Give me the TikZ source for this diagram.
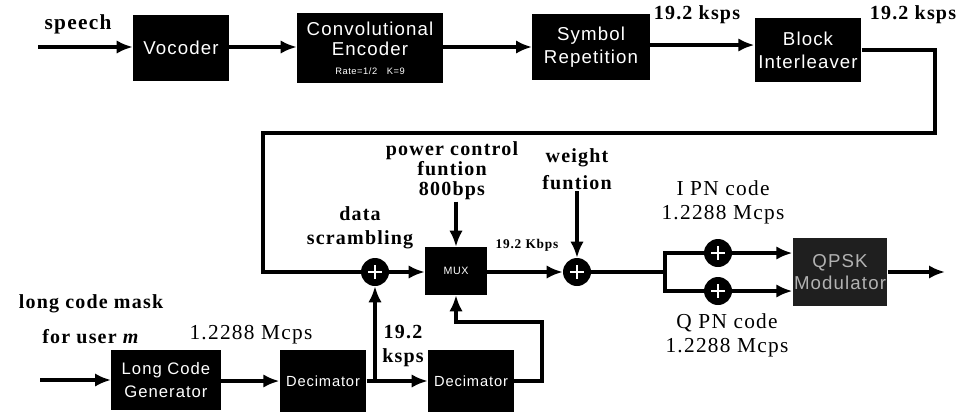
\documentclass[tikz,border=0pt]{standalone}
\usepackage{fontspec}
\setmainfont{Liberation Serif}[LetterSpace=6]
\newfontfamily\boxfont{Liberation Sans}[LetterSpace=6]
\usetikzlibrary{arrows.meta}

\begin{document}
\begin{tikzpicture}[
  x=0.75pt, y=-0.75pt,
  every node/.style={inner sep=1pt},
  blk/.style={rectangle, fill=black, text=white, align=center, inner sep=0pt,
    font=\boxfont\fontsize{14}{17}\selectfont},
  xor/.style={circle, fill=black, minimum size=21pt, inner sep=0pt,
    path picture={
      \draw[white, line width=1.8pt]
        ([yshift=-5pt]path picture bounding box.center) -- ([yshift=5pt]path picture bounding box.center)
        ([xshift=-5pt]path picture bounding box.center) -- ([xshift=5pt]path picture bounding box.center);}},
  lbl/.style={align=center, font=\fontsize{16}{18}\selectfont},
  blbl/.style={lbl, font=\bfseries\fontsize{15}{18}\selectfont},
  edge/.style={draw, line width=2.6pt},
  arr/.style={edge, -{Latex[length=12pt,width=10pt]}}]

  \useasboundingbox (0,0) rectangle (962,412);

  %% ---------------- top row ----------------
  % blocks
  \node[blk, minimum width=72pt, minimum height=50pt] (voc) at (181,48) {Vocoder};
  \node[blk, minimum width=109.5pt, minimum height=52pt] (conv) at (370,48)
    {Convolutional\\[-2pt]Encoder\\[-3pt]{\fontsize{7}{8}\selectfont Rate=1/2 \ \ K=9}};
  \node[blk, minimum width=88pt, minimum height=49.5pt] (sym) at (591,47) {Symbol\\Repetition};
  \node[blk, minimum width=80pt, minimum height=48pt] (bil) at (808,50) {Block\\Interleaver};
  % input and edges
  \coordinate (spIn) at (38,47);
  \draw[arr] (spIn) -- (voc.west |- spIn);
  \draw[arr] (voc.east |- spIn) -- (conv.west |- spIn);
  \draw[arr] (conv.east |- spIn) -- (sym.west |- spIn);
  \draw[arr] (sym.east |- 0,45) -- (bil.west |- 0,45);
  % labels
  \node[blbl, font=\bfseries\fontsize{16}{18}\selectfont] (speech) at (78,24) {speech};
  \node[blbl] (rSym) at (697,15) {19.2 ksps};
  \node[blbl] (rBil) at (913,15) {19.2 ksps};

  %% ---------------- middle row ----------------
  % the interleaver output loops back to the scrambler
  \coordinate (lpR) at (935,133);
  \coordinate (lpL) at (263,133);
  \node[xor] (xs) at (375,272) {};
  \node[blk, minimum width=46.5pt, minimum height=36pt,
    font=\boxfont\fontsize{8}{9}\selectfont] (mux) at (456,271) {MUX};
  \node[xor] (xw) at (577,272) {};
  \node[xor] (xi) at (718,253) {};
  \node[xor] (xq) at (718,291) {};
  \node[blk, fill=black!88, text=black!30, minimum width=71pt, minimum height=51pt] (qpsk) at (840,272)
    {QPSK\\Modulator};
  \coordinate (split) at (665,272);
  \coordinate (out) at (945,272);
  % edges
  \draw[edge] (bil.east) -| (lpR) -- (lpL) |- (xs.west);
  \draw[arr] (xs.east) -- (mux.west |- xs);
  \draw[arr] (mux.east |- xw) -- (xw.west);
  \draw[edge] (xw.east) -- (split);
  \draw[edge] (split) |- (xi.west);
  \draw[edge] (split) |- (xq.west);
  \draw[arr] (xi.east) -- (qpsk.west |- xi);
  \draw[arr] (xq.east) -- (qpsk.west |- xq);
  \draw[arr] (qpsk.east) -- (out);
  % labels
  \node[blbl] (scr) at (360,228) {data\\scrambling};
  \node[blbl] (pwr) at (452,171) {power control\\[-3pt]funtion\\[-3pt]800bps};
  \node[blbl, font=\bfseries\fontsize{10}{12}\selectfont] (rMux) at (527,245) {19.2 Kbps};
  \node[blbl, font=\bfseries\fontsize{15}{20}\selectfont] (wgt) at (577,169) {weight\\funtion};
  \node[lbl] (ipn) at (723,202) {I PN code\\1.2288 Mcps};
  \node[lbl] (qpn) at (727,335) {Q PN code\\1.2288 Mcps};
  \draw[arr] (mux.north |- pwr.south) -- (mux.north);
  \draw[arr] (wgt.south) -- (xw.north);

  %% ---------------- bottom row ----------------
  % blocks
  \node[blk, minimum width=82pt, minimum height=45pt,
    font=\boxfont\fontsize{12.5}{17}\selectfont] (lcg) at (166,380) {Long Code\\Generator};
  \node[blk, minimum width=65pt, minimum height=46.5pt,
    font=\boxfont\fontsize{11}{13}\selectfont] (dec1) at (323,381) {Decimator};
  \node[blk, minimum width=64.5pt, minimum height=46.5pt,
    font=\boxfont\fontsize{11}{13}\selectfont] (dec2) at (471,381) {Decimator};
  % edges
  \coordinate (lcIn) at (40,380);
  \coordinate (tap) at (375,381);
  \coordinate (fb) at (542,322);
  \draw[arr] (lcIn) -- (lcg.west);
  \draw[arr] (lcg.east |- dec1) -- (dec1.west);
  \draw[arr] (dec1.east) -- (dec2.west);
  \draw[arr] (tap) -- (xs.south);
  \draw[arr] (dec2.east) -| (fb) -| (mux.south);
  % labels
  \node[blbl] (lcm) at (91,319) {long code mask\\[8pt]for user \textit{m}};
  \node[lbl] (rLcg) at (251,335) {1.2288 Mcps};
  \node[blbl] (rDec) at (403,346) {19.2\\ksps};

\end{tikzpicture}
\end{document}
